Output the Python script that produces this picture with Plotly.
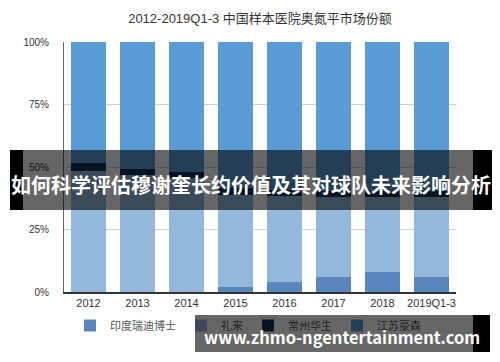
import plotly.graph_objects as go

categories = ["2012", "2013", "2014", "2015", "2016", "2017", "2018", "2019Q1-3"]
series_names = ["印度瑞迪博士", "礼来", "常州华生", "江苏豪森"]
reddy = [0, 0, 0, 2, 4, 6, 8, 6]
lilly = [48.4, 46.8, 45.6, 37, 34.5, 32, 30, 32]
huasheng = [3.2, 2.4, 2.4, 2.5, 2.5, 2.5, 2.5, 2.5]
hansoh = [48.4, 50.8, 52.0, 58.5, 59.0, 59.5, 59.5, 59.5]
colors = ["#5a86bd", "#93b8dc", "#10305e", "#5b9bd5"]
y_ticks = [0, 25, 50, 75, 100]
y_ticktext = ["0%", "25%", "50%", "75%", "100%"]
title_text = "2012-2019Q1-3 中国样本医院奥氮平市场份额"
banner_text = "如何科学评估穆谢奎长约价值及其对球队未来影响分析"
url_text = "www.zhmo-ngentertainment.com"

FONT = "Liberation Sans, Noto Sans CJK SC, sans-serif"
CJK = "Noto Sans CJK SC, sans-serif"

fig = go.Figure()
for name, vals, col in zip(series_names, [reddy, lilly, huasheng, hansoh], colors):
    fig.add_trace(go.Bar(x=categories, y=vals, name=name, marker=dict(color=col, line=dict(width=0))))

# plot area: x 64..456, y 42..292
def xp(px):
    return (px - 64) / 392.0

def yp(py):
    return (292 - py) / 250.0

ann = []
# top banner
ann.append(dict(xref="paper", yref="paper", x=xp(248), y=yp(180), width=450, height=60,
                text=" ", showarrow=False, bgcolor="rgba(0,0,0,0.6)", borderpad=0, borderwidth=0,
                xanchor="center", yanchor="middle"))
ann.append(dict(xref="paper", yref="paper", x=xp(16.5), y=yp(180), width=13, height=60,
                text=" ", showarrow=False, bgcolor="#000000", borderpad=0, borderwidth=0,
                xanchor="center", yanchor="middle"))
ann.append(dict(xref="paper", yref="paper", x=xp(482.5), y=yp(180), width=19, height=60,
                text=" ", showarrow=False, bgcolor="#000000", borderpad=0, borderwidth=0,
                xanchor="center", yanchor="middle"))
ann.append(dict(xref="paper", yref="paper", x=xp(251), y=yp(184), text="<b>" + banner_text + "</b>",
                showarrow=False, font=dict(family=CJK, size=20, color="#ffffff"),
                xanchor="center", yanchor="middle", borderpad=0))
# bottom banner
ann.append(dict(xref="paper", yref="paper", x=xp(334), y=yp(333.5), width=278, height=37,
                text=" ", showarrow=False, bgcolor="rgba(0,0,0,0.6)", borderpad=0, borderwidth=0,
                xanchor="center", yanchor="middle"))
ann.append(dict(xref="paper", yref="paper", x=xp(481.5), y=yp(333.5), width=17, height=37,
                text=" ", showarrow=False, bgcolor="#000000", borderpad=0, borderwidth=0,
                xanchor="center", yanchor="middle"))
ann.append(dict(xref="paper", yref="paper", x=xp(341.5), y=yp(337), text="<b>" + url_text + "</b>",
                showarrow=False, font=dict(family=CJK, size=16.5, color="#ffffff"),
                xanchor="center", yanchor="middle", borderpad=0))

fig.update_layout(
    width=500, height=362,
    margin=dict(l=64, r=44, t=42, b=70),
    paper_bgcolor="white", plot_bgcolor="white",
    barmode="stack", bargap=0.3,
    font=dict(family=FONT, size=10, color="#333333"),
    title=dict(text=title_text, x=260 / 500, xanchor="center", y=1 - 18 / 362, yanchor="middle",
               font=dict(family=FONT, size=13, color="#333333")),
    showlegend=True,
    legend=dict(orientation="h", traceorder="normal", x=xp(70), xanchor="left",
                y=yp(311), yanchor="top", font=dict(family=FONT, size=11, color="#555555"),
                bgcolor="rgba(0,0,0,0)", itemclick=False),
    annotations=ann,
    xaxis=dict(showline=True, linecolor="#333333", linewidth=1.5, ticks="", showgrid=False,
               tickfont=dict(size=11, color="#333333")),
    yaxis=dict(range=[0, 100], tickvals=y_ticks, ticktext=y_ticktext, showgrid=True,
               gridcolor="#cfcfcf", gridwidth=1, showline=True, linecolor="#666666", linewidth=1,
               zeroline=False, ticks="", ticklabelstandoff=12, tickfont=dict(size=10, color="#333333")),
)

fig.write_html("out.html")
